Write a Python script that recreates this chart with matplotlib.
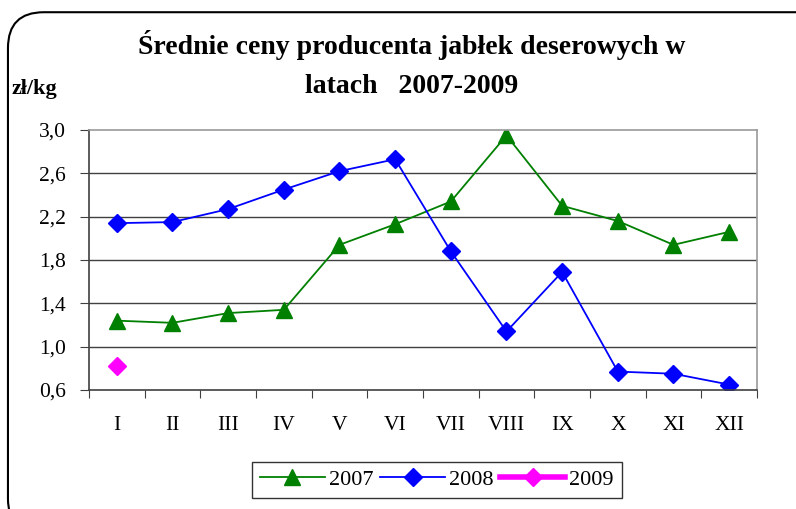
import matplotlib
matplotlib.use('Agg')
import matplotlib.pyplot as plt
from matplotlib.patches import FancyBboxPatch

# Dane
miesiace = ['I', 'II', 'III', 'IV', 'V', 'VI', 'VII', 'VIII', 'IX', 'X', 'XI', 'XII']
ceny_2007 = [1.24, 1.22, 1.31, 1.34, 1.94, 2.13, 2.34, 2.95, 2.30, 2.16, 1.94, 2.06]
ceny_2008 = [2.14, 2.15, 2.27, 2.45, 2.62, 2.73, 1.88, 1.14, 1.69, 0.77, 0.75, 0.65]
ceny_2009 = [0.82]
y_ticks = [0.6, 1.0, 1.4, 1.8, 2.2, 2.6, 3.0]

plt.rcParams['font.family'] = ['Liberation Serif', 'DejaVu Serif']

fig = plt.figure(figsize=(7.96, 5.09), dpi=100)
ax = fig.add_axes([0.1118, 0.2338, 0.8392, 0.5108])

x = list(range(len(miesiace)))

ax.plot(x, ceny_2007, color='#008000', lw=1.3, marker='^', markersize=12, label='2007')
ax.plot(x, ceny_2008, color='#0000FF', lw=1.3, marker='D', markersize=9, label='2008')
ax.plot(x[:len(ceny_2009)], ceny_2009, color='#FF00FF', lw=4, marker='D', markersize=9,
        label='2009')

# Osie
ax.set_xlim(-0.5, len(miesiace) - 0.5)
ax.set_ylim(0.6, 3.0)
ax.set_yticks(y_ticks)
ax.set_yticklabels([('%.1f' % v).replace('.', ',') for v in y_ticks], fontsize=15.5)
ax.set_xticks([i - 0.5 for i in range(len(miesiace) + 1)])
ax.set_xticklabels([])
ax.set_xticks(x, minor=True)
ax.set_xticklabels(miesiace, minor=True, fontsize=15.5)
ax.tick_params(axis='x', which='minor', length=0, pad=19)
ax.tick_params(axis='x', which='major', direction='out', length=6, color='#404040')
ax.tick_params(axis='y', direction='out', length=6.5, color='#404040', pad=10)

# Siatka
for v in y_ticks[1:-1]:
    ax.axhline(v, color='#404040', lw=1.0, zorder=0)

for s in ['left', 'bottom']:
    ax.spines[s].set_color('#404040')
    ax.spines[s].set_linewidth(1.2)
for s in ['top', 'right']:
    ax.spines[s].set_color('#999999')
    ax.spines[s].set_linewidth(1.2)

# Tytuł i jednostka
fig.text(0.517, 0.911, 'Średnie ceny producenta jabłek deserowych w', ha='center', va='center',
         fontsize=20, fontweight='bold')
fig.text(0.517, 0.83, 'latach   2007-2009', ha='center', va='center',
         fontsize=20, fontweight='bold')
fig.text(0.015, 0.826, 'zł/kg', ha='left', va='center', fontsize=16, fontweight='bold')

# Legenda
leg = fig.legend(loc='center', bbox_to_anchor=(0.549, 0.057), ncol=3, fontsize=16,
                 frameon=True, fancybox=False, edgecolor='black', borderpad=0.35,
                 handlelength=2.9, columnspacing=0.3, handletextpad=0.2, borderaxespad=0.2)
leg.get_frame().set_linewidth(1.0)

# Ramka wykresu
ramka = FancyBboxPatch((0.01, -0.05), 1.05, 1.026, boxstyle='round,pad=0,rounding_size=0.045',
                       transform=fig.transFigure, fill=False, edgecolor='black', lw=1.5,
                       clip_on=False, mutation_aspect=796 / 509)
fig.patches.append(ramka)

fig.savefig('out.png', dpi=100)
